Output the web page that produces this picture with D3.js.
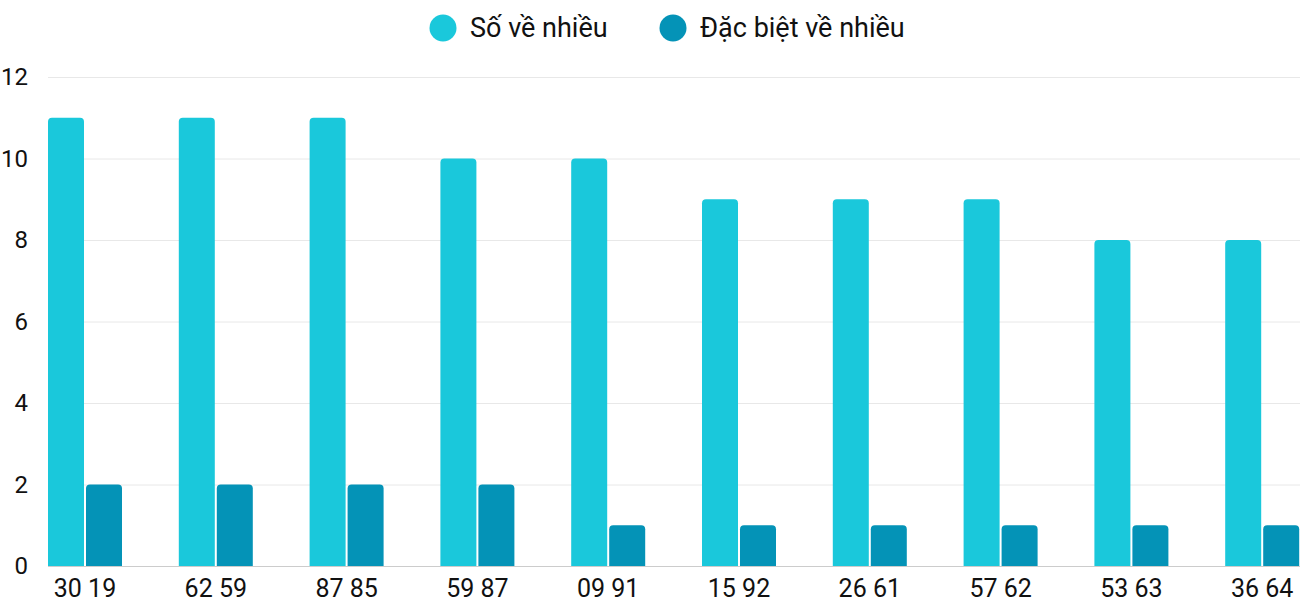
<!DOCTYPE html>
<html>
<head>
<meta charset="utf-8">
<script src="https://cdn.jsdelivr.net/npm/d3@7/dist/d3.min.js"></script>
<style>
  html, body { margin: 0; padding: 0; background: #fff; }
  svg { display: block; font-family: Roboto, "Noto Sans", sans-serif; }
</style>
</head>
<body>
<svg id="chart" width="1300" height="600"></svg>
<script>
const categories = ["30 19", "62 59", "87 85", "59 87", "09 91", "15 92", "26 61", "57 62", "53 63", "36 64"];
const seriesNames = ["Số về nhiều", "Đặc biệt về nhiều"];
const soVeNhieu = [11, 11, 11, 10, 10, 9, 9, 9, 8, 8];
const dacBietVeNhieu = [2, 2, 2, 2, 1, 1, 1, 1, 1, 1];
const yTicks = [0, 2, 4, 6, 8, 10, 12];
const colors = ["#1ac8db", "#0493b7"];

const svg = d3.select("#chart");
const plotLeft = 48, plotRight = 1300, yTop = 77, yBottom = 566;
const step = 130.8, firstCenter = 85;

const y = d3.scaleLinear().domain([0, 12]).range([yBottom, yTop]);
const x0 = d3.scaleBand().domain(categories)
  .range([firstCenter - step / 2, firstCenter - step / 2 + step * categories.length])
  .padding(0);
const groupW = 74;
const x1 = d3.scaleBand().domain(seriesNames).range([0, groupW]).paddingInner(2 / 38);

// gridlines
svg.append("g").selectAll("line").data(yTicks).join("line")
  .attr("x1", plotLeft).attr("x2", plotRight)
  .attr("y1", d => y(d) + 0.5).attr("y2", d => y(d) + 0.5)
  .attr("stroke", d => d === 0 ? "#cccccc" : "#e8e8e8")
  .attr("stroke-width", 1);

// y axis labels
svg.append("g").selectAll("text").data(yTicks).join("text")
  .attr("x", 28).attr("y", d => y(d))
  .attr("dy", "0.35em")
  .attr("text-anchor", "end")
  .attr("font-size", 24)
  .attr("fill", "#111")
  .text(d => d);

function topRounded(x, yy, w, h, r) {
  r = Math.min(r, h, w / 2);
  return `M${x},${yy + h}V${yy + r}Q${x},${yy} ${x + r},${yy}H${x + w - r}Q${x + w},${yy} ${x + w},${yy + r}V${yy + h}Z`;
}

const data = categories.map((c, i) => ({ cat: c, vals: [soVeNhieu[i], dacBietVeNhieu[i]] }));
const groups = svg.append("g").selectAll("g").data(data).join("g")
  .attr("transform", d => `translate(${x0(d.cat) + (x0.bandwidth() - groupW) / 2},0)`);
groups.selectAll("path").data(d => d.vals.map((v, k) => ({ v, k }))).join("path")
  .attr("d", d => topRounded(x1(seriesNames[d.k]), y(d.v), x1.bandwidth(), yBottom - y(d.v), 4))
  .attr("fill", d => colors[d.k]);

// x labels
svg.append("g").selectAll("text").data(categories).join("text")
  .attr("x", d => x0(d) + x0.bandwidth() / 2)
  .attr("y", 597)
  .attr("text-anchor", "middle")
  .attr("font-size", 25)
  .attr("fill", "#111")
  .text(d => d);

// legend
const legendX = [443, 673];
const lg = svg.append("g").selectAll("g").data(seriesNames).join("g")
  .attr("transform", (d, i) => `translate(${legendX[i]},28)`);
lg.append("circle").attr("r", 13.5).attr("fill", (d, i) => colors[i]);
lg.append("text").attr("x", 27).attr("dy", "0.35em")
  .attr("font-size", 27).attr("fill", "#111").text(d => d);
</script>
</body>
</html>
